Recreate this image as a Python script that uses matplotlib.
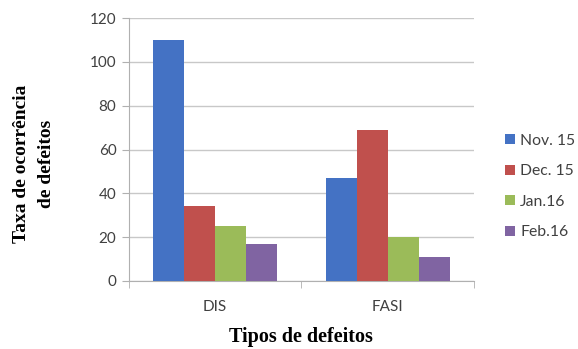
import numpy as np
import matplotlib
matplotlib.use("Agg")
from matplotlib import pyplot as plt

categories = ["DIS", "FASI"]
months = ["Nov. 15", "Dec. 15", "Jan.16", "Feb.16"]
nov15 = [110, 47]
dec15 = [34, 69]
jan16 = [25, 20]
feb16 = [17, 11]
colors = ["#4472C4", "#C0504D", "#9BBB59", "#8064A2"]

series = [nov15, dec15, jan16, feb16]

fig = plt.figure(figsize=(5.78, 3.49), dpi=100)
ax = fig.add_axes([0.223, 0.195, 0.597, 0.753])

x = np.arange(len(categories))
w = 0.18
for i, (vals, lab, c) in enumerate(zip(series, months, colors)):
    ax.bar(x + (i - 1.5) * w, vals, w, color=c, label=lab, zorder=3)

ax.set_xlim(-0.5, 1.5)
ax.set_ylim(0, 120)
ax.set_yticks(range(0, 121, 20))
ax.grid(axis="y", color="#c8c8c8", linewidth=1.0, zorder=0)

ax.set_xticks(x)
ax.set_xticklabels(categories)
ax.set_xticks([-0.5, 0.5, 1.5], minor=True)
ax.tick_params(axis="x", which="major", length=0, pad=14)
ax.tick_params(axis="x", which="minor", length=5, color="#b0b0b0")
ax.tick_params(axis="y", length=5, color="#b0b0b0", pad=4)
for lab in ax.get_xticklabels() + ax.get_yticklabels():
    lab.set_fontfamily("Lato")
    lab.set_fontsize(11)
    lab.set_color("#404040")

for s in ["top", "right"]:
    ax.spines[s].set_visible(False)
for s in ["left", "bottom"]:
    ax.spines[s].set_color("#b0b0b0")

ax.set_xlabel("Tipos de defeitos", family="Liberation Serif", weight="bold",
              fontsize=14.5, labelpad=9)
fig.text(0.059, 0.53, "Taxa de ocorrência\nde defeitos", family="Liberation Serif",
         weight="bold", fontsize=14, rotation=90, ha="center", va="center",
         linespacing=1.65)

leg = ax.legend(loc="center left", bbox_to_anchor=(1.05, 0.36), frameon=False,
                prop={"family": "Lato", "size": 11.3}, handlelength=0.6,
                handleheight=0.6, handletextpad=0.35, labelspacing=1.05)
for t in leg.get_texts():
    t.set_color("#404040")

fig.savefig("out.png", dpi=100)
